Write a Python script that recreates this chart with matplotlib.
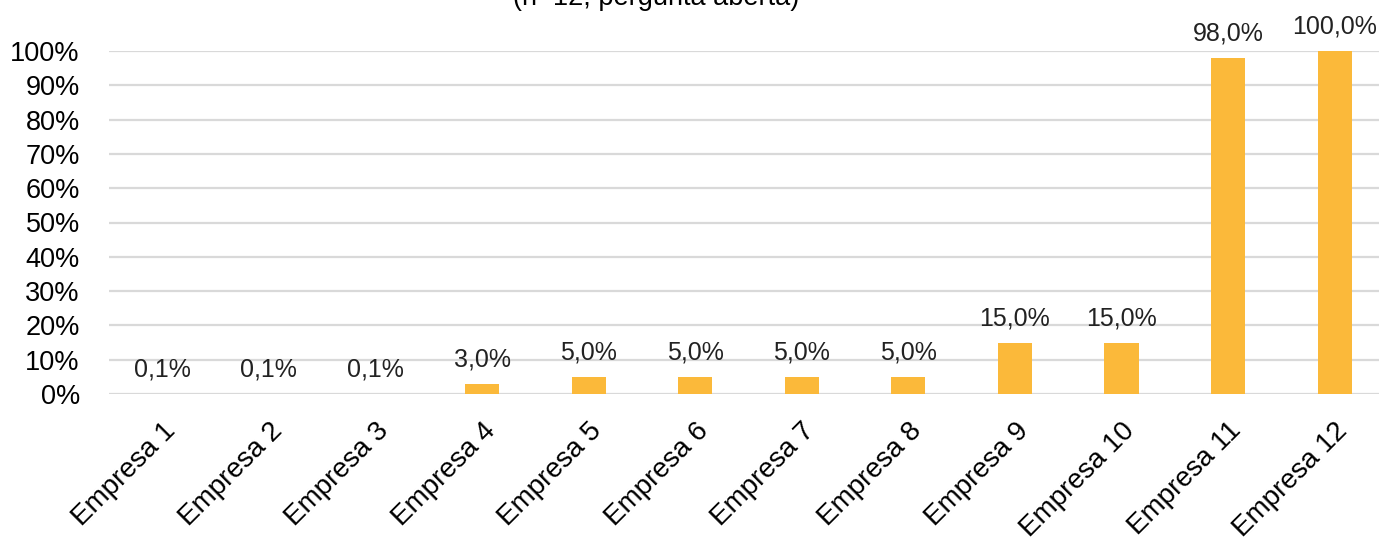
import matplotlib
matplotlib.use("Agg")
import matplotlib.pyplot as plt
from matplotlib.ticker import FuncFormatter

plt.rcParams["font.family"] = ["Liberation Sans", "DejaVu Sans"]

empresas = ["Empresa %d" % i for i in range(1, 13)]
valores = [0.1, 0.1, 0.1, 3.0, 5.0, 5.0, 5.0, 5.0, 15.0, 15.0, 98.0, 100.0]
titulo = "(n=12, pergunta aberta)"

fig = plt.figure(figsize=(13.79, 5.38), dpi=100)
ax = fig.add_axes([109 / 1379, 144 / 538, 1279 / 1379, 343 / 538])

x = list(range(len(empresas)))
bars = ax.bar(x, valores, width=0.32, color="#FBB93A", zorder=3)

for b, v in zip(bars, valores):
    ax.annotate(("%.1f%%" % v).replace(".", ","),
                (b.get_x() + b.get_width() / 2, v),
                xytext=(0, 9), textcoords="offset points",
                ha="center", va="bottom", fontsize=18, color="#222222")

ax.set_xlim(-0.5, 11.5)
ax.set_ylim(0, 100)
ax.set_yticks(range(0, 101, 10))
ax.yaxis.set_major_formatter(FuncFormatter(lambda v, p: "%d%%" % v))
ax.grid(axis="y", color="#d9d9d9", linewidth=1.6, zorder=0)
for s in ax.spines.values():
    s.set_visible(False)
ax.tick_params(axis="both", length=0, labelsize=19.5)
ax.tick_params(axis="y", pad=21)
ax.set_xticks(x)
ax.set_xticklabels(empresas, rotation=45, ha="right", rotation_mode="anchor",
                   fontsize=20)
ax.tick_params(axis="x", pad=17)

# title sits partly above the top edge, as in the original export
fig.text(656 / 1379, 1.004, titulo, ha="center", va="center", fontsize=19.5)

fig.savefig("out.png", dpi=100)
